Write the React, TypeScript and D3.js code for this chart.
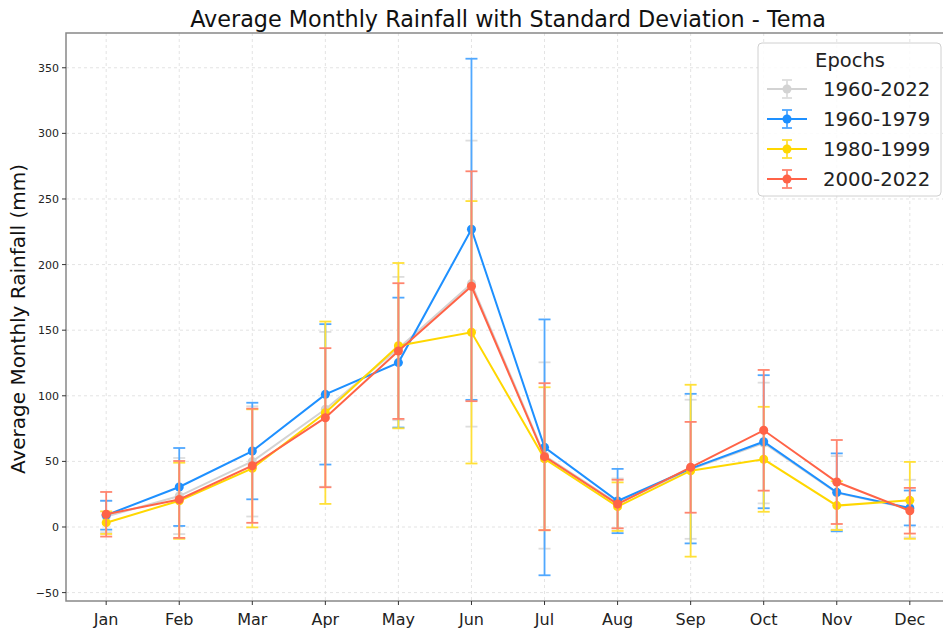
import React from "react";
import * as d3 from "d3";

const months = ["Jan", "Feb", "Mar", "Apr", "May", "Jun", "Jul", "Aug", "Sep", "Oct", "Nov", "Dec"];
const yTicks = [-50, 0, 50, 100, 150, 200, 250, 300, 350];

const epochNames = ["1960-2022", "1960-1979", "1980-1999", "2000-2022"];
const epochColors = ["#d3d3d3", "#1e90ff", "#ffd700", "#ff6347"];

const mean1960_2022 = [8, 23.6, 50, 89.7, 136, 185.5, 54.5, 18, 44, 64, 26, 14];
const sd1960_2022 = [12, 29, 42, 59, 54.6, 109, 71, 19, 53, 46, 28, 22];
const mean1960_1979 = [9, 30.5, 57.9, 101.1, 125.3, 226.9, 60.7, 19.8, 44.5, 65, 26.4, 14.5];
const sd1960_1979 = [11, 29.7, 36.8, 53.5, 49.5, 130, 97.5, 24.5, 57, 50.7, 29.7, 13.3];
const mean1980_1999 = [3.3, 20, 44.7, 87.1, 138.2, 148.4, 52, 15.5, 42.9, 51.6, 16.3, 20.3];
const sd1980_1999 = [8.6, 29, 45, 69.5, 63, 100, 54.5, 18.5, 65.5, 40, 18.6, 29.3];
const mean2000_2022 = [9.7, 21, 46.7, 83.3, 134.1, 183.5, 53.6, 17.5, 45.5, 73.7, 34.3, 12.4];
const sd2000_2022 = [17, 29.3, 43.5, 53, 51.7, 87.6, 56, 18.5, 34.6, 46, 32, 17.4];

const means = [mean1960_2022, mean1960_1979, mean1980_1999, mean2000_2022];
const sds = [sd1960_2022, sd1960_1979, sd1980_1999, sd2000_2022];

const W = 943;
const H = 630;
const left = 66;
const right = 950;
const top = 33;
const bottom = 601;

function lighten(c: string, a: number) {
  return d3.interpolateRgb("#ffffff", c)(a);
}

export default function App() {
  const x = d3.scaleLinear().domain([-0.55, 11.55]).range([left, right]);
  const y = d3.scaleLinear().domain([-56.4, 376.5]).range([bottom, top]);
  const line = d3
    .line<number>()
    .x((_, i) => x(i))
    .y((d) => y(d));
  const font = "DejaVu Sans, sans-serif";
  const cap = 6;

  return (
    <svg width={W} height={H} style={{ position: "absolute", left: 0, top: 0, fontFamily: font }}>
      <rect x={0} y={0} width={W} height={H} fill="#fff" />
      <defs>
        <clipPath id="plotclip">
          <rect x={left} y={top} width={right - left} height={bottom - top} />
        </clipPath>
      </defs>
      {/* grid */}
      <g stroke="#dcdcdc" strokeWidth={0.8} strokeDasharray="3,3">
        {months.map((m, i) => (
          <line key={m} x1={x(i)} x2={x(i)} y1={top} y2={bottom} />
        ))}
        {yTicks.map((t) => (
          <line key={t} x1={left} x2={right} y1={y(t)} y2={y(t)} />
        ))}
      </g>
      {/* series */}
      <g clipPath="url(#plotclip)">
        {means.map((ser, s) => (
          <g key={epochNames[s]}>
            <g stroke={lighten(epochColors[s], 0.78)} strokeWidth={1.8}>
              {ser.map((m, i) => (
                <g key={i}>
                  <line x1={x(i)} x2={x(i)} y1={y(m - sds[s][i])} y2={y(m + sds[s][i])} />
                  <line x1={x(i) - cap} x2={x(i) + cap} y1={y(m - sds[s][i])} y2={y(m - sds[s][i])} />
                  <line x1={x(i) - cap} x2={x(i) + cap} y1={y(m + sds[s][i])} y2={y(m + sds[s][i])} />
                </g>
              ))}
            </g>
            <path d={line(ser) || ""} fill="none" stroke={epochColors[s]} strokeWidth={2} />
            {ser.map((m, i) => (
              <circle key={i} cx={x(i)} cy={y(m)} r={4.5} fill={epochColors[s]} />
            ))}
          </g>
        ))}
      </g>
      {/* spines */}
      <rect x={left} y={top} width={right - left} height={bottom - top} fill="none" stroke="#888" strokeWidth={1.5} />
      {/* x ticks */}
      {months.map((m, i) => (
        <g key={m}>
          <line x1={x(i)} x2={x(i)} y1={bottom} y2={bottom + 4} stroke="#333" />
          <text x={x(i)} y={bottom + 24} textAnchor="middle" fontSize={16} fill="#222">
            {m}
          </text>
        </g>
      ))}
      {/* y ticks */}
      {yTicks.map((t) => (
        <g key={t}>
          <line x1={left - 4} x2={left} y1={y(t)} y2={y(t)} stroke="#333" />
          <text x={left - 7} y={y(t) + 4} textAnchor="end" fontSize={11} fill="#222">
            {t < 0 ? "\u2212" + Math.abs(t) : t}
          </text>
        </g>
      ))}
      <text x={(left + right) / 2} y={27} textAnchor="middle" fontSize={22.3} fill="#111">
        Average Monthly Rainfall with Standard Deviation - Tema
      </text>
      <text transform={`translate(25,${(top + bottom) / 2 + 2}) rotate(-90)`} textAnchor="middle" fontSize={20} fill="#111">
        Average Monthly Rainfall (mm)
      </text>
      {/* legend */}
      <g>
        <rect x={758} y={43} width={183} height={153} rx={4} fill="#fff" fillOpacity={0.85} stroke="#d0d0d0" />
        <text x={850} y={67} textAnchor="middle" fontSize={19.5} fill="#222">
          Epochs
        </text>
        {epochNames.map((n, k) => {
          const ly = 89 + k * 30;
          const lc = lighten(epochColors[k], 0.78);
          return (
            <g key={n}>
              <line x1={767} x2={807} y1={ly} y2={ly} stroke={epochColors[k]} strokeWidth={2} />
              <line x1={787} x2={787} y1={ly - 9} y2={ly + 9} stroke={lc} strokeWidth={1.8} />
              <line x1={782} x2={792} y1={ly - 9} y2={ly - 9} stroke={lc} strokeWidth={1.8} />
              <line x1={782} x2={792} y1={ly + 9} y2={ly + 9} stroke={lc} strokeWidth={1.8} />
              <circle cx={787} cy={ly} r={4.5} fill={epochColors[k]} />
              <text x={823} y={ly + 7} fontSize={19.7} fill="#222">
                {n}
              </text>
            </g>
          );
        })}
      </g>
    </svg>
  );
}
